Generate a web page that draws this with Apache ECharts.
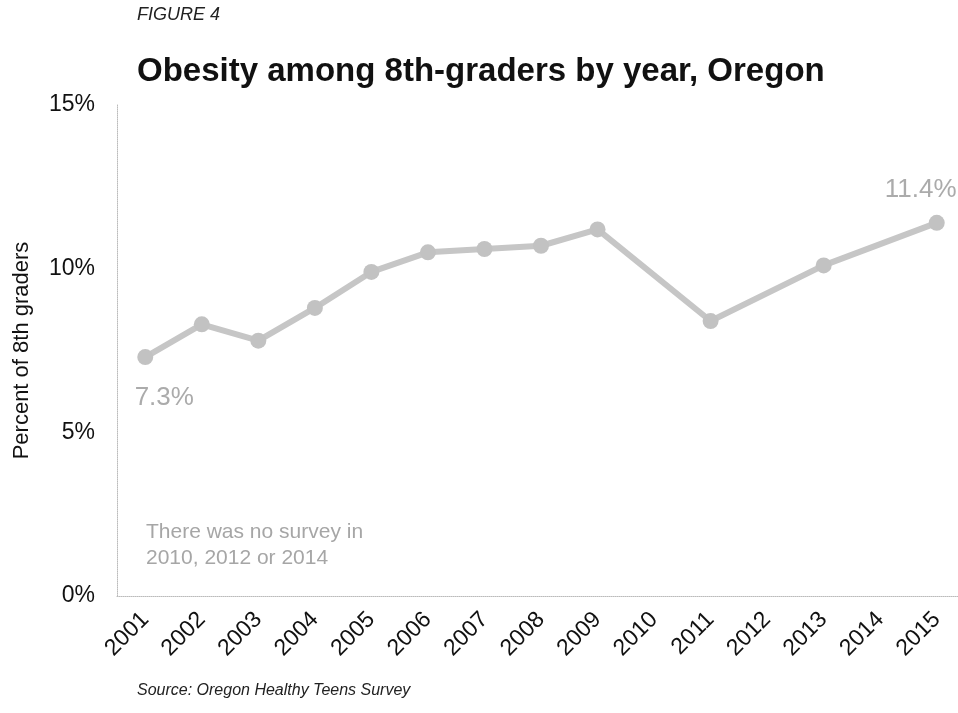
<!DOCTYPE html>
<html><head><meta charset="utf-8">
<script src="https://cdn.jsdelivr.net/npm/echarts@6/dist/echarts.min.js"></script>
<style>html,body{margin:0;padding:0;background:#fff}#c{width:958px;height:713px}</style>
</head><body><div id="c"></div>
<script>
const years = ['2001','2002','2003','2004','2005','2006','2007','2008','2009','2010','2011','2012','2013','2014','2015'];
const obesity = [7.3, 8.3, 7.8, 8.8, 9.9, 10.5, 10.6, 10.7, 11.2, null, 8.4, null, 10.1, null, 11.4];
const yTicks = [0, 5, 10, 15];

const chart = echarts.init(document.getElementById('c'));
const lastIdx = obesity.length - 1;
chart.setOption({
  animation: false,
  backgroundColor: '#fff',
  title: [
    {text: 'FIGURE 4', left: 137, top: 6, padding: 0, textStyle: {fontFamily: 'Liberation Sans', fontStyle: 'italic', fontWeight: 'normal', fontSize: 18, color: '#222'}},
    {text: 'Obesity among 8th-graders by year, Oregon', left: 137, top: 55, padding: 0, textStyle: {fontFamily: 'Liberation Sans', fontWeight: 'bold', fontSize: 33, color: '#111'}},
    {text: 'Source: Oregon Healthy Teens Survey', left: 137, top: 683, padding: 0, textStyle: {fontFamily: 'Liberation Sans', fontStyle: 'italic', fontWeight: 'normal', fontSize: 16, color: '#222'}}
  ],
  graphic: [{
    type: 'text', left: 146, top: 519,
    style: {text: 'There was no survey in\n2010, 2012 or 2014', font: '21px "Liberation Sans"', fill: '#a6a6a6', lineHeight: 26}
  }],
  grid: {left: 117, top: 105, width: 848, height: 491, outerBoundsMode: 'none', containLabel: false},
  xAxis: {
    type: 'category', data: years, boundaryGap: true,
    axisLine: {lineStyle: {color: '#bbb', type: 'dotted', width: 1}},
    axisTick: {show: false},
    axisLabel: {rotate: 45, fontFamily: 'Liberation Sans', fontSize: 23, color: '#111', margin: 20}
  },
  yAxis: {
    type: 'value', min: 0, max: 15, interval: 5,
    name: 'Percent of 8th graders', nameLocation: 'middle', nameGap: 84,
    nameTextStyle: {fontFamily: 'Liberation Sans', fontSize: 22, color: '#111'},
    axisLine: {show: true, lineStyle: {color: '#bbb', type: 'dotted', width: 1}},
    axisTick: {show: false},
    splitLine: {show: false},
    axisLabel: {fontFamily: 'Liberation Sans', fontSize: 23, color: '#111', margin: 22,
      formatter: v => yTicks.includes(v) ? v + '%' : ''}
  },
  series: [{
    type: 'line', data: obesity.map((v, i) => {
      if (i === 0) return {value: v, label: {show: true, position: 'bottom', distance: 20, offset: [19, 0]}};
      if (i === lastIdx) return {value: v, label: {show: true, position: 'top', distance: 12, offset: [-16, 0]}};
      return v;
    }),
    connectNulls: true,
    symbol: 'circle', symbolSize: 16,
    lineStyle: {color: '#c6c6c6', width: 6},
    itemStyle: {color: '#c2c2c2'},
    label: {show: false, formatter: p => p.value + '%', fontFamily: 'Liberation Sans', fontSize: 26, color: '#ababab'}
  }]
});
</script>
</body></html>
